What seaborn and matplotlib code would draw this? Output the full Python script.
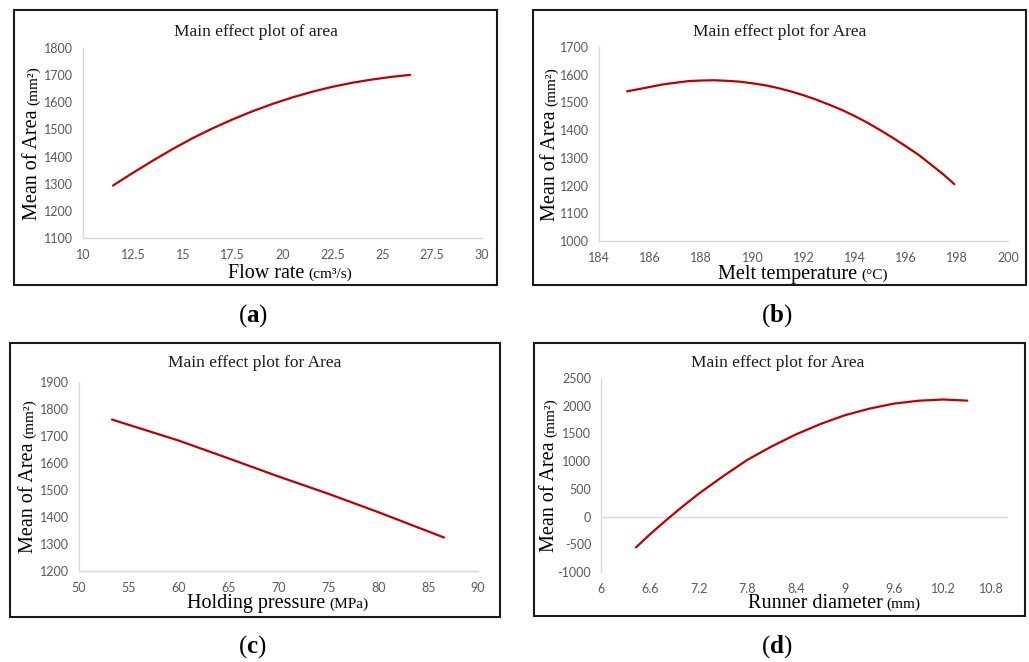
import matplotlib
matplotlib.use("Agg")
import matplotlib.pyplot as plt
import seaborn as sns
import pandas as pd
from matplotlib.patches import Rectangle

# ---------------- data ----------------
flow_rate = [11.5, 12.5, 13.5, 14.5, 15.5, 16.5, 17.5, 18.5, 19.5, 20.5, 21.5, 22.5,
             23.5, 24.5, 25.5, 26.4]
area_flow = [1293, 1340, 1385, 1428, 1468, 1504, 1537, 1567, 1594, 1618, 1639, 1657,
             1672, 1684, 1694, 1701]

melt_temp = [185.1, 185.5, 186, 186.5, 187, 187.5, 188, 188.5, 189, 189.5, 190, 190.5,
             191, 191.5, 192, 192.5, 193, 193.5, 194, 194.5, 195, 195.5, 196, 196.5,
             197, 197.5, 197.9]
area_melt = [1540, 1547, 1556, 1565, 1571, 1577, 1579, 1580, 1578, 1575, 1569, 1562,
             1552, 1540, 1526, 1510, 1492, 1473, 1451, 1427, 1400, 1372, 1342, 1311,
             1275, 1238, 1205]

hold_press = [53.3, 60, 65, 70, 75, 80, 86.6]
area_hold = [1761, 1683, 1617, 1550, 1486, 1418, 1324]

runner_dia = [6.43, 6.6, 6.8, 7.0, 7.2, 7.5, 7.8, 8.1, 8.4, 8.7, 9.0, 9.3, 9.6, 9.9,
              10.2, 10.5]
area_runner = [-555, -323, -66, 179, 412, 728, 1025, 1268, 1486, 1672, 1830, 1948,
               2038, 2090, 2112, 2092]

xticks_a = [10, 12.5, 15, 17.5, 20, 22.5, 25, 27.5, 30]
yticks_a = [1100, 1200, 1300, 1400, 1500, 1600, 1700, 1800]
xticks_b = [184, 186, 188, 190, 192, 194, 196, 198, 200]
yticks_b = [1000, 1100, 1200, 1300, 1400, 1500, 1600, 1700]
xticks_c = [50, 55, 60, 65, 70, 75, 80, 85, 90]
yticks_c = [1200, 1300, 1400, 1500, 1600, 1700, 1800, 1900]
xticks_d = [6, 6.6, 7.2, 7.8, 8.4, 9, 9.6, 10.2, 10.8]
xticklabels_d = ["6", "6.6", "7.2", "7.8", "8.4", "9", "9.6", "10.2", "10.8"]
yticks_d = [-1000, -500, 0, 500, 1000, 1500, 2000, 2500]

titles = ["Main effect plot of area", "Main effect plot for Area",
          "Main effect plot for Area", "Main effect plot for Area"]
xlab_main = ["Flow rate", "Melt temperature", "Holding pressure", "Runner diameter"]
xlab_unit = ["(cm\u00b3/s)", "(\u00b0C)", "(MPa)", "(mm)"]
ylab_main = "Mean of Area"
ylab_unit = "(mm\u00b2)"
panel_letters = ["a", "b", "c", "d"]

# ---------------- style ----------------
sns.set_theme(style="white")
plt.rcParams["font.family"] = ["Liberation Serif", "DejaVu Serif"]
plt.rcParams["mathtext.fontset"] = "custom"
plt.rcParams["mathtext.rm"] = "Liberation Serif"
plt.rcParams["mathtext.bf"] = "Liberation Serif:bold"

W, H = 1029, 662
fig = plt.figure(figsize=(W / 100, H / 100), dpi=100)
fig.patch.set_facecolor("white")


def fx(px):
    return px / W


def fy(py):
    return 1 - py / H


LINE = "#c00000"
TICKC = "#595959"
AXC = "#d9d9d9"

panels = [
    dict(ax=(83, 48, 482, 238), frame=(14, 10, 497, 285), x=flow_rate, y=area_flow,
         xlim=(10, 30), ylim=(1100, 1800), xt=xticks_a, xtl=None, yt=yticks_a,
         title=(256, 36), xl=(290, 278), yl=(37, 143), lab=(253, 322), zero=False),
    dict(ax=(599, 47, 1008, 241), frame=(533, 10, 1026, 285), x=melt_temp, y=area_melt,
         xlim=(184, 200), ylim=(1000, 1700), xt=xticks_b, xtl=None, yt=yticks_b,
         title=(780, 36), xl=(803, 279), yl=(555, 144), lab=(777, 322), zero=False),
    dict(ax=(79, 382, 478, 571), frame=(10, 343, 500, 617), x=hold_press, y=area_hold,
         xlim=(50, 90), ylim=(1200, 1900), xt=xticks_c, xtl=None, yt=yticks_c,
         title=(255, 367), xl=(278, 608), yl=(33, 476), lab=(252, 653), zero=False),
    dict(ax=(601, 378, 1008, 572), frame=(534, 343, 1025, 616), x=runner_dia, y=area_runner,
         xlim=(6, 11), ylim=(-1000, 2500), xt=xticks_d, xtl=xticklabels_d, yt=yticks_d,
         title=(778, 367), xl=(834, 608), yl=(554, 475), lab=(777, 653), zero=True),
]

pending = []
for i, p in enumerate(panels):
    l, t, r, b = p["ax"]
    ax = fig.add_axes([fx(l), fy(b), (r - l) / W, (b - t) / H])
    df = pd.DataFrame({"x": p["x"], "y": p["y"]})
    sns.lineplot(data=df, x="x", y="y", ax=ax, color=LINE, linewidth=1.6, sort=False)
    ax.set_xlim(*p["xlim"])
    ax.set_ylim(*p["ylim"])
    ax.set_xticks(p["xt"])
    if p["xtl"] is not None:
        ax.set_xticklabels(p["xtl"])
    else:
        ax.set_xticklabels([f"{v:g}" for v in p["xt"]])
    ax.set_yticks(p["yt"])
    ax.set_yticklabels([f"{v:g}" for v in p["yt"]])
    ax.set_xlabel("")
    ax.set_ylabel("")
    ax.tick_params(axis="both", length=0, colors=TICKC, labelsize=9)
    ax.tick_params(axis="x", pad=8)
    ax.tick_params(axis="y", pad=7)
    for lbl in ax.get_xticklabels() + ax.get_yticklabels():
        lbl.set_fontfamily("Lato")
    for s in ["top", "right"]:
        ax.spines[s].set_visible(False)
    ax.spines["left"].set_color(AXC)
    ax.spines["left"].set_linewidth(1.0)
    if p["zero"]:
        ax.spines["bottom"].set_visible(False)
        ax.axhline(0, color=AXC, linewidth=1.0, zorder=0)
    else:
        ax.spines["bottom"].set_color(AXC)
        ax.spines["bottom"].set_linewidth(1.0)
    ax.set_facecolor("none")

    # frame around the panel
    fl, ft, fr, fb = p["frame"]
    fig.add_artist(Rectangle((fx(fl), fy(fb)), (fr - fl) / W, (fb - ft) / H,
                             transform=fig.transFigure, fill=False,
                             edgecolor="#1a1a1a", linewidth=1.5))
    # title
    fig.text(fx(p["title"][0]), fy(p["title"][1]), titles[i], ha="center",
             va="baseline", fontsize=12.5, color="#1a1a1a")
    # panel letter
    fig.text(fx(p["lab"][0]), fy(p["lab"][1]), r"($\mathbf{" + panel_letters[i] + r"}$)",
             ha="center", va="baseline", fontsize=18, color="black")
    # x label pieces
    xm = fig.text(0, fy(p["xl"][1]), xlab_main[i], ha="left", va="baseline",
                  fontsize=14.5, color="black")
    xu = fig.text(0, fy(p["xl"][1]), xlab_unit[i], ha="left", va="baseline",
                  fontsize=11, color="black")
    # y label pieces
    ym = fig.text(fx(p["yl"][0]), 0, ylab_main, ha="left", va="baseline", rotation=90,
                  rotation_mode="anchor", fontsize=14.5, color="black")
    yu = fig.text(fx(p["yl"][0]), 0, ylab_unit, ha="left", va="baseline", rotation=90,
                  rotation_mode="anchor", fontsize=11, color="black")
    pending.append((p, xm, xu, ym, yu))

fig.canvas.draw()
r = fig.canvas.get_renderer()
for p, xm, xu, ym, yu in pending:
    gap = 4
    wm = xm.get_window_extent(r).width
    wu = xu.get_window_extent(r).width
    total = wm + gap + wu
    x0 = p["xl"][0] - total / 2
    xm.set_x(fx(x0))
    xu.set_x(fx(x0 + wm + gap))
    hm = ym.get_window_extent(r).height
    hu = yu.get_window_extent(r).height
    totalh = hm + gap + hu
    y0 = p["yl"][1] + totalh / 2  # bottom (pixel from top)
    ym.set_y(fy(y0))
    yu.set_y(fy(y0 - hm - gap))

fig.savefig("out.png", dpi=100, facecolor="white")
